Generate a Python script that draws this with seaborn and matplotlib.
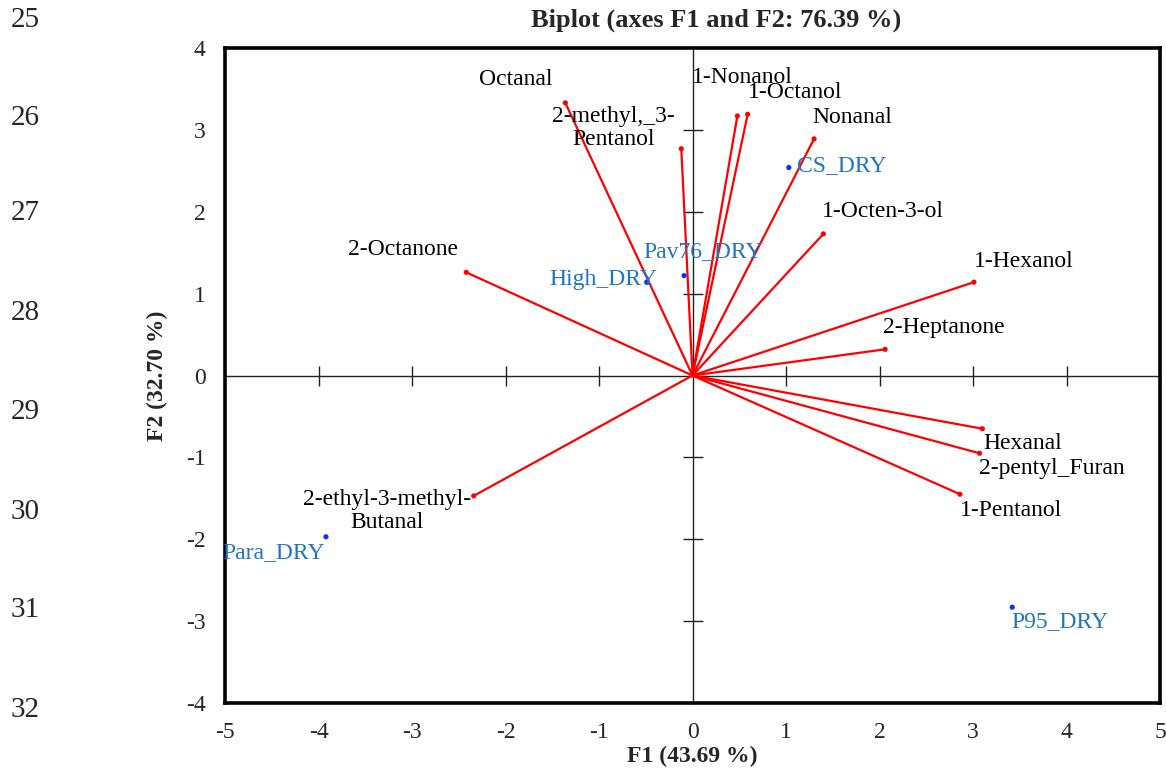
import matplotlib
matplotlib.use("Agg")
import matplotlib.pyplot as plt
import seaborn as sns
import pandas as pd

# ---------------- data ----------------
var_names = ["Octanal", "2-methyl,_3-\nPentanol", "1-Nonanol", "1-Octanol", "Nonanal",
             "1-Octen-3-ol", "1-Hexanol", "2-Heptanone", "Hexanal", "2-pentyl_Furan",
             "1-Pentanol", "2-ethyl-3-methyl-\nButanal", "2-Octanone"]
var_f1 = [-1.36, -0.12, 0.48, 0.59, 1.30, 1.40, 3.01, 2.06, 3.10, 3.07, 2.86, -2.34, -2.42]
var_f2 = [3.33, 2.77, 3.17, 3.19, 2.89, 1.73, 1.14, 0.32, -0.65, -0.95, -1.45, -1.47, 1.26]

obs_names = ["CS_DRY", "Pav76_DRY", "High_DRY", "Para_DRY", "P95_DRY"]
obs_f1 = [1.03, -0.09, -0.49, -3.92, 3.42]
obs_f2 = [2.54, 1.22, 1.14, -1.97, -2.83]

x_ticks = [-5, -4, -3, -2, -1, 0, 1, 2, 3, 4, 5]
y_ticks = [-4, -3, -2, -1, 0, 1, 2, 3, 4]
row_numbers = ["25", "26", "27", "28", "29", "30", "31", "32"]

title = "Biplot (axes F1 and F2: 76.39 %)"
xlabel = "F1 (43.69 %)"
ylabel = "F2 (32.70 %)"

# ---------------- layout (label offsets in pixels) ----------------
var_offsets = [(-50, 23), (-68, 21), (5, 38), (48, 22), (38, 21), (60, 22), (50, 21),
               (59, 22), (40, -15), (72, -15), (51, -16), (-87, -15), (-63, 23)]
obs_offsets = [(53, 2), (19, 24), (-43, 3), (-52, -16), (48, -14)]

sns.set_theme(style="white")
plt.rcParams["font.family"] = ["Liberation Serif", "DejaVu Serif"]

W, H = 1166, 769
fig = plt.figure(figsize=(W / 100, H / 100), dpi=100)
pos = [225 / W, 1 - 703 / H, (1160 - 225) / W, (703 - 48) / H]

# inner axes crossing at zero, with cross ticks (drawn underneath)
ax2 = fig.add_axes(pos)
ax2.set_xlim(-5, 5)
ax2.set_ylim(-4, 4)
ax2.patch.set_alpha(0)
ax2.spines["left"].set_position(("data", 0))
ax2.spines["bottom"].set_position(("data", 0))
ax2.spines["top"].set_visible(False)
ax2.spines["right"].set_visible(False)
for s in ("left", "bottom"):
    ax2.spines[s].set_visible(True)
    ax2.spines[s].set_color("#222222")
    ax2.spines[s].set_linewidth(1.0)
ax2.set_xticks([t for t in x_ticks if t not in (-5, 0, 5)])
ax2.set_yticks([t for t in y_ticks if t not in (-4, 0, 4)])
ax2.tick_params(axis="both", which="major", direction="inout", length=14, width=1.0,
                color="#222222", labelleft=False, labelbottom=False,
                bottom=True, left=True)

ax = fig.add_axes(pos)
ax.patch.set_alpha(0)

# vectors
rows = []
for n, x, y in zip(var_names, var_f1, var_f2):
    rows.append({"var": n, "x": 0.0, "y": 0.0})
    rows.append({"var": n, "x": x, "y": y})
vec = pd.DataFrame(rows)
sns.lineplot(data=vec, x="x", y="y", units="var", estimator=None, sort=False,
             color="#FF0000", lw=1.6, ax=ax, legend=False)
ends = pd.DataFrame({"x": var_f1, "y": var_f2, "var": var_names})
sns.scatterplot(data=ends, x="x", y="y", color="#FF0000", s=14, edgecolor="none",
                ax=ax, legend=False, zorder=3)

obs = pd.DataFrame({"x": obs_f1, "y": obs_f2, "name": obs_names})
sns.scatterplot(data=obs, x="x", y="y", color="#0033FF", s=14, edgecolor="none",
                ax=ax, legend=False, zorder=3)

for n, x, y, (dx, dy) in zip(var_names, var_f1, var_f2, var_offsets):
    ax.annotate(n, (x, y), xytext=(dx, dy), textcoords="offset pixels",
                ha="center", va="center", fontsize=17, color="black",
                linespacing=1.1)
for n, x, y, (dx, dy) in zip(obs_names, obs_f1, obs_f2, obs_offsets):
    ax.annotate(n, (x, y), xytext=(dx, dy), textcoords="offset pixels",
                ha="center", va="center", fontsize=17, color="#1F74C4")

ax.set_xlim(-5, 5)
ax.set_ylim(-4, 4)
ax.set_xticks(x_ticks)
ax.set_yticks(y_ticks)
ax.set_xticklabels([str(t) for t in x_ticks], fontsize=17)
ax.set_yticklabels([str(t) for t in y_ticks], fontsize=17)
ax.tick_params(axis="both", length=0, pad=14)
ax.set_xlabel(xlabel, fontsize=17, fontweight="bold", labelpad=2)
ax.set_ylabel(ylabel, fontsize=17, fontweight="bold", labelpad=13)
for s in ax.spines.values():
    s.set_visible(True)
    s.set_color("black")
    s.set_linewidth(2.6)

fig.text(716 / W, 1 - 20 / H, title, ha="center", va="center", fontsize=19,
         fontweight="bold")

row_y = [20, 118, 213, 313, 412, 512, 610, 710]
for t, yy in zip(row_numbers, row_y):
    fig.text(25 / W, 1 - yy / H, t, ha="center", va="center", fontsize=21)

fig.savefig("out.png", dpi=100)
